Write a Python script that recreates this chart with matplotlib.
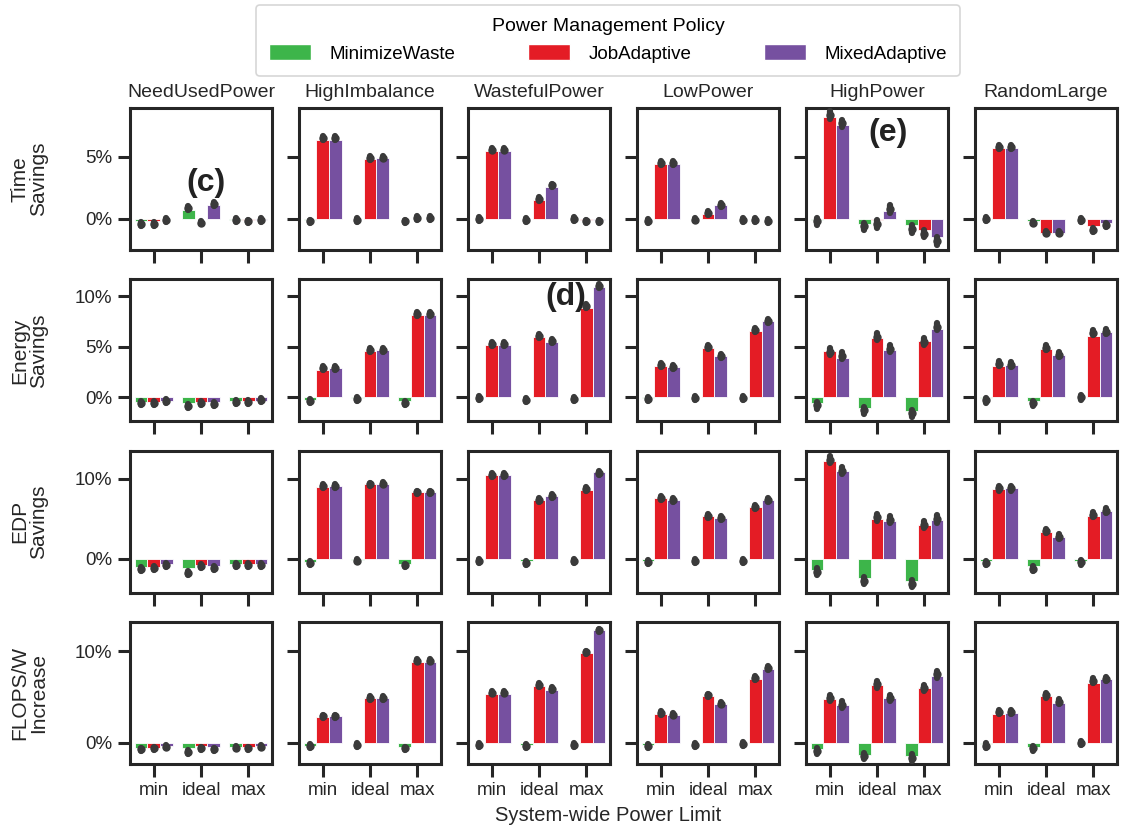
"""Grouped bar grid: power management policies across workloads and power limits."""
import numpy as np
import matplotlib
matplotlib.use("Agg")
import matplotlib.pyplot as plt
from matplotlib.patches import Patch

plt.rcParams['font.family'] = ['Liberation Sans', 'DejaVu Sans']

# --- Data ---
workloads = ["NeedUsedPower", "HighImbalance", "WastefulPower",
             "LowPower", "HighPower", "RandomLarge"]
limits = ["min", "ideal", "max"]
policies = ["MinimizeWaste", "JobAdaptive", "MixedAdaptive"]
metric_labels = ["Time\nSavings", "Energy\nSavings", "EDP\nSavings", "FLOPS/W\nIncrease"]

# bar heights [workload][limit][policy], in percent
time_bar = np.array([
    [[-0.2, -0.2, 0.0], [0.7, 0.0, 1.1], [-0.05, -0.1, -0.05]],
    [[-0.1, 6.4, 6.4], [0.0, 4.8, 4.9], [0.0, 0.0, 0.0]],
    [[0.0, 5.5, 5.5], [0.0, 1.5, 2.6], [0.0, -0.1, -0.1]],
    [[0.0, 4.4, 4.4], [0.0, 0.4, 1.1], [0.0, 0.0, 0.0]],
    [[-0.1, 8.2, 7.6], [-0.4, -0.1, 0.6], [-0.5, -0.9, -1.5]],
    [[0.0, 5.7, 5.7], [-0.2, -1.1, -1.1], [0.0, -0.6, -0.3]],
])
time_pt = np.array([
    [[-0.4, -0.4, -0.1], [0.9, -0.3, 1.2], [-0.1, -0.2, -0.1]],
    [[-0.2, 6.5, 6.5], [-0.1, 4.9, 4.95], [-0.2, 0.1, 0.1]],
    [[0.0, 5.6, 5.6], [-0.1, 1.6, 2.7], [0.0, -0.2, -0.2]],
    [[-0.15, 4.5, 4.5], [-0.05, 0.5, 1.1], [-0.1, -0.1, -0.15]],
    [[-0.2, 8.4, 7.7], [-0.6, -0.4, 0.8], [-0.8, -1.2, -1.8]],
    [[0.0, 5.8, 5.8], [-0.3, -1.1, -1.1], [-0.1, -0.9, -0.5]],
])

energy_bar = np.array([
    [[-0.5, -0.5, -0.4], [-0.6, -0.5, -0.5], [-0.4, -0.4, -0.4]],
    [[-0.3, 2.7, 2.9], [-0.1, 4.6, 4.7], [-0.4, 8.2, 8.2]],
    [[0.0, 5.2, 5.2], [0.0, 6.0, 5.5], [0.0, 8.9, 10.9]],
    [[-0.1, 3.1, 3.0], [0.0, 4.9, 4.1], [0.0, 6.6, 7.6]],
    [[-0.6, 4.6, 3.9], [-1.1, 5.9, 4.7], [-1.4, 5.6, 6.8]],
    [[-0.1, 3.1, 3.2], [-0.4, 4.8, 4.2], [0.0, 6.1, 6.5]],
])
energy_pt = np.array([
    [[-0.6, -0.6, -0.4], [-0.9, -0.6, -0.7], [-0.5, -0.5, -0.3]],
    [[-0.4, 2.9, 2.9], [-0.2, 4.7, 4.7], [-0.6, 8.3, 8.3]],
    [[-0.1, 5.3, 5.3], [-0.3, 6.1, 5.6], [-0.2, 9.1, 11.0]],
    [[-0.2, 3.2, 3.0], [-0.1, 5.0, 4.1], [-0.1, 6.7, 7.6]],
    [[-0.8, 4.5, 4.1], [-1.3, 6.0, 4.8], [-1.6, 5.5, 7.0]],
    [[-0.3, 3.3, 3.2], [-0.6, 4.9, 4.2], [0.0, 6.4, 6.5]],
])

edp_bar = np.array([
    [[-1.0, -1.0, -0.6], [-1.1, -0.8, -0.9], [-0.6, -0.6, -0.6]],
    [[-0.4, 9.0, 9.1], [-0.1, 9.3, 9.3], [-0.6, 8.3, 8.3]],
    [[0.0, 10.5, 10.5], [-0.3, 7.4, 7.9], [0.0, 8.6, 10.8]],
    [[-0.3, 7.6, 7.3], [0.0, 5.4, 5.1], [0.0, 6.5, 7.4]],
    [[-1.4, 12.2, 11.0], [-2.4, 5.0, 4.8], [-2.8, 4.3, 4.9]],
    [[-0.3, 8.7, 8.8], [-0.9, 3.4, 2.8], [-0.2, 5.4, 6.0]],
])
edp_pt = np.array([
    [[-1.2, -1.1, -0.8], [-1.7, -0.9, -1.1], [-0.8, -0.8, -0.7]],
    [[-0.5, 9.1, 9.1], [-0.2, 9.3, 9.4], [-0.8, 8.3, 8.3]],
    [[-0.2, 10.5, 10.5], [-0.5, 7.4, 7.9], [-0.2, 8.7, 10.7]],
    [[-0.4, 7.6, 7.3], [-0.2, 5.4, 5.1], [-0.2, 6.5, 7.4]],
    [[-1.6, 12.4, 11.0], [-2.7, 5.2, 4.9], [-3.1, 4.3, 5.0]],
    [[-0.5, 8.8, 8.8], [-1.2, 3.5, 2.8], [-0.4, 5.5, 6.0]],
])

flops_bar = np.array([
    [[-0.5, -0.5, -0.3], [-0.5, -0.3, -0.4], [-0.4, -0.4, -0.3]],
    [[-0.3, 2.8, 2.9], [0.0, 4.9, 4.9], [-0.4, 8.9, 8.9]],
    [[0.0, 5.4, 5.4], [-0.2, 6.2, 5.8], [0.0, 9.8, 12.3]],
    [[-0.2, 3.2, 3.1], [0.0, 5.1, 4.3], [0.0, 7.0, 8.1]],
    [[-0.7, 4.8, 4.1], [-1.3, 6.3, 4.9], [-1.4, 6.0, 7.3]],
    [[-0.1, 3.2, 3.3], [-0.4, 5.1, 4.4], [0.0, 6.6, 7.0]],
])
flops_pt = np.array([
    [[-0.7, -0.6, -0.4], [-1.0, -0.6, -0.7], [-0.5, -0.6, -0.4]],
    [[-0.3, 2.9, 2.9], [-0.2, 4.9, 4.9], [-0.6, 9.0, 9.0]],
    [[-0.2, 5.5, 5.5], [-0.3, 6.3, 5.9], [-0.2, 9.9, 12.3]],
    [[-0.3, 3.3, 3.1], [-0.2, 5.2, 4.3], [-0.1, 7.1, 8.2]],
    [[-0.9, 4.9, 4.2], [-1.4, 6.4, 4.9], [-1.6, 6.0, 7.5]],
    [[-0.3, 3.4, 3.4], [-0.6, 5.2, 4.5], [0.0, 6.8, 7.0]],
])

# half-length of the spread line, per workload
time_err   = [0.15, 0.15, 0.15, 0.15, 0.3, 0.15]
energy_err = [0.2, 0.2, 0.2, 0.2, 0.35, 0.25]
edp_err    = [0.25, 0.2, 0.25, 0.25, 0.45, 0.3]
flops_err  = [0.2, 0.2, 0.2, 0.2, 0.35, 0.25]

bars = [time_bar, energy_bar, edp_bar, flops_bar]
pts = [time_pt, energy_pt, edp_pt, flops_pt]
errs = [time_err, energy_err, edp_err, flops_err]

ylims = [(-2.5, 8.95), (-2.4, 11.7), (-4.2, 13.5), (-2.3, 13.2)]
yticks = [[0, 5], [0, 5, 10], [0, 10], [0, 10]]

colors = ['#3db54a', '#e41c25', '#7650a0']
dark = '#262626'

fig, axes = plt.subplots(4, 6, figsize=(11.24, 8.32), dpi=100, sharex=True)
fig.subplots_adjust(left=0.1157, right=0.9938, top=0.8702, bottom=0.0817,
                    wspace=0.19, hspace=0.208)

x = np.arange(len(limits))
w = 0.8 / 3
for r in range(4):
    for c in range(6):
        ax = axes[r, c]
        for k in range(3):
            xs = x + (k - 1) * w
            ax.bar(xs, bars[r][c, :, k], width=w, color=colors[k],
                   edgecolor='white', linewidth=0.6, zorder=2)
            p = pts[r][c, :, k]
            e = errs[r][c]
            ax.vlines(xs, p - e, p + e, color='#3a3a3a', lw=4.5, zorder=3,
                      capstyle='round')
            ax.plot(xs, p, 'o', color='#3a3a3a', ms=5, zorder=4)
        ax.set_xlim(-0.5, 2.5)
        ax.set_ylim(*ylims[r])
        ax.set_yticks(yticks[r])
        ax.set_xticks(x)
        ax.set_xticklabels(limits)
        for s in ax.spines.values():
            s.set_linewidth(2.2)
            s.set_color(dark)
        ax.tick_params(axis='both', length=9, width=2.2, color=dark,
                       labelsize=13.5, labelcolor=dark, pad=4)
        if c == 0:
            ax.set_yticklabels([f"{t}%" for t in yticks[r]])
            ax.set_ylabel(metric_labels[r], fontsize=15, color=dark,
                          linespacing=0.95)
            ax.yaxis.set_label_coords(-0.58, 0.5)
        else:
            ax.set_yticklabels([])
        if r < 3:
            ax.tick_params(axis='x', labelbottom=False)
        if r == 0:
            ax.set_title(workloads[c], fontsize=14, color=dark, pad=8)

# annotations
ann = dict(fontsize=23, fontweight='bold', ha='center', va='center', color='#222222')
axes[0, 0].text(1.1, 2.9, "(c)", **ann)
axes[1, 2].text(1.57, 9.9, "(d)", **ann)
axes[0, 4].text(1.23, 6.9, "(e)", **ann)

handles = [Patch(facecolor=col, edgecolor='white') for col in colors]
leg = fig.legend(handles, policies, title="Power Management Policy", ncol=3,
                 loc='upper center', bbox_to_anchor=(0.541, 0.994),
                 borderaxespad=0, fontsize=13.5, title_fontsize=14,
                 frameon=True, handlelength=2.2, handleheight=0.9,
                 columnspacing=3.9, handletextpad=1.0, borderpad=0.7,
                 labelspacing=0.5)
leg.get_frame().set_edgecolor('#cccccc')
leg.get_frame().set_linewidth(1.2)

fig.text(0.541, 0.02, "System-wide Power Limit", ha='center', va='center',
         fontsize=14.5, color=dark)

fig.savefig("out.png", dpi=100)
